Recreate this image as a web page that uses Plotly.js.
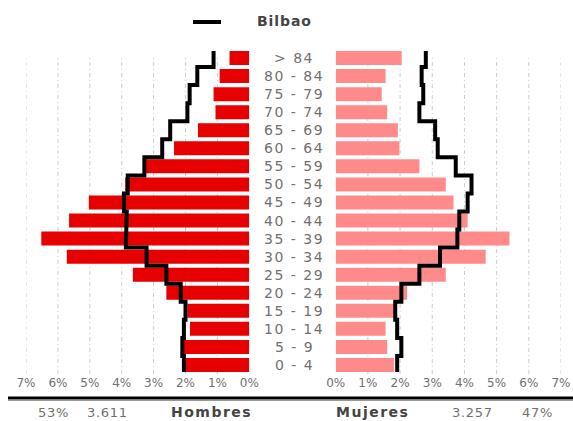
<!DOCTYPE html>
<html>
<head>
<meta charset="utf-8">
<script src="https://cdn.plot.ly/plotly-3.0.1.min.js"></script>
<style>html,body{margin:0;padding:0;background:#fff;}#chart{width:573px;height:421px;}</style>
</head>
<body>
<div id="chart"></div>
<script>
// Age groups, youngest to oldest
var ages = ["0 - 4","5 - 9","10 - 14","15 - 19","20 - 24","25 - 29","30 - 34","35 - 39","40 - 44","45 - 49","50 - 54","55 - 59","60 - 64","65 - 69","70 - 74","75 - 79","80 - 84","> 84"];
// Percent of population (bars)
var menPct   = [2.00,2.05,1.86,1.94,2.60,3.65,5.72,6.52,5.65,5.03,3.89,3.24,2.36,1.61,1.06,1.12,0.93,0.62];
var womenPct = [1.81,1.60,1.55,1.82,2.22,3.42,4.66,5.40,4.10,3.66,3.42,2.60,1.98,1.93,1.60,1.43,1.55,2.05];
// Reference profile: Bilbao (step lines)
var menBilbao   = [2.05,2.10,2.05,2.00,2.15,2.60,3.22,3.87,3.84,3.93,3.81,3.29,2.73,2.48,1.94,1.87,1.63,1.12];
var womenBilbao = [1.91,2.04,1.91,1.85,2.04,2.60,3.24,3.78,3.84,4.10,4.22,3.73,3.17,3.09,2.60,2.72,2.67,2.80];
// Axis ticks
var tickVals = [0,1,2,3,4,5,6,7];
var tickText = ["0%","1%","2%","3%","4%","5%","6%","7%"];
var gridVals = [1,2,3,4,5,6,7];
// Totals
var refName = "Bilbao";
var menLabel = "Hombres", womenLabel = "Mujeres";
var menTotal = "3.611", womenTotal = "3.257";
var menShare = "53%", womenShare = "47%";

var bargap = 0.225;
var half = (1 - bargap) / 2;
var idx = ages.map(function(_, i){ return i; });

function stepLine(vals){
  var xs = [], ys = [];
  for (var i = 0; i < vals.length; i++){
    var lo = (i === 0) ? i - half : i - 0.5;
    var hi = (i === vals.length - 1) ? i + half : i + 0.5;
    xs.push(vals[i], vals[i]);
    ys.push(lo, hi);
  }
  return {x: xs, y: ys};
}
var mStep = stepLine(menBilbao), wStep = stepLine(womenBilbao);

var traces = [
  {type:'bar', orientation:'h', x: menPct, y: idx, xaxis:'x', yaxis:'y',
   marker:{color:'#e60000', line:{width:0}}, hoverinfo:'skip', showlegend:false},
  {type:'bar', orientation:'h', x: womenPct, y: idx, xaxis:'x2', yaxis:'y',
   marker:{color:'#ff8a8a', line:{width:0}}, hoverinfo:'skip', showlegend:false},
  {type:'scatter', mode:'lines', x: mStep.x, y: mStep.y, xaxis:'x', yaxis:'y',
   line:{color:'#000', width:4}, hoverinfo:'skip', showlegend:false},
  {type:'scatter', mode:'lines', x: wStep.x, y: wStep.y, xaxis:'x2', yaxis:'y',
   line:{color:'#000', width:4}, hoverinfo:'skip', showlegend:false}
];

var W = 573, H = 421, T = 49, B = 47;
var plotH = H - T - B;
function py(pix){ return (H - B - pix) / plotH; }

var FF = 'DejaVu Sans, Verdana, sans-serif';
var tickFont = {family:FF, size:12, color:'#6f6f6f'};
var axCommon = {tickmode:'array', tickvals: tickVals, ticktext: tickText, showgrid:false, zeroline:false,
  showline:false, ticks:'', tickfont: tickFont, fixedrange:true, anchor:'y'};

var shapes = [];
gridVals.forEach(function(v){
  ['x','x2'].forEach(function(ax){
    shapes.push({type:'line', xref:ax, yref:'paper', x0:v, x1:v, y0:0, y1:0.98,
      layer:'below', line:{color:'#cccccc', width:1, dash:'4px,3px,1px,3px'}});
  });
});
shapes.push({type:'line', xref:'paper', yref:'paper', x0:8/W, x1:1, y0:py(398), y1:py(398),
  line:{color:'#000', width:3}});
shapes.push({type:'line', xref:'paper', yref:'paper', x0:8/W, x1:1, y0:py(400.5), y1:py(400.5),
  line:{color:'#999', width:1}});
shapes.push({type:'line', xref:'paper', yref:'paper', x0:193/W, x1:221/W, y0:py(22), y1:py(22),
  line:{color:'#000', width:4}});

function spaced(txt, px){ return '<span style="letter-spacing:' + px + 'px">' + txt + '</span>'; }

var annotations = ages.map(function(a, i){
  return {text: spaced(a, 1.5), xref:'paper', yref:'y', x:294/W, y:i, showarrow:false,
    xanchor:'center', yanchor:'middle',
    font:{family:FF, size:14, color:'#707070'}};
});
function note(txt, xc, bold, col, sp, size){
  var t = spaced(txt, sp);
  annotations.push({text: bold ? '<b>'+t+'</b>' : t, xref:'paper', yref:'paper',
    x:xc/W, y:py(412), showarrow:false, xanchor:'center', yanchor:'middle',
    font:{family:FF, size:size, color:col}});
}
note(menShare, 53, false, '#707070', 0.7, 13);
note(menTotal, 107, false, '#707070', 0.7, 13);
note(menLabel, 211, true, '#444', 1.5, 14);
note(womenLabel, 372, true, '#444', 1.5, 14);
note(womenTotal, 472, false, '#707070', 0.7, 13);
note(womenShare, 537, false, '#707070', 0.7, 13);
annotations.push({text:'<b>'+spaced(refName, 0.9)+'</b>', xref:'paper', yref:'paper', x:284/W, y:py(21),
  showarrow:false, xanchor:'center', yanchor:'middle',
  font:{family:FF, size:14, color:'#444'}});

var layout = {
  width: W, height: H,
  margin:{l:0, r:0, t:T, b:B, pad:0},
  paper_bgcolor:'#fff', plot_bgcolor:'#fff',
  bargap: bargap,
  showlegend:false,
  xaxis: Object.assign({}, axCommon, {domain:[26/W, 249.3/W], range:[7, 0]}),
  xaxis2: Object.assign({}, axCommon, {domain:[335.7/W, 561/W], range:[0, 7]}),
  yaxis: {range:[-0.5, ages.length - 0.5], showticklabels:false, showgrid:false,
    zeroline:false, showline:false, ticks:'', fixedrange:true},
  shapes: shapes,
  annotations: annotations
};

Plotly.newPlot('chart', traces, layout, {displayModeBar:false, staticPlot:true});
</script>
</body>
</html>
